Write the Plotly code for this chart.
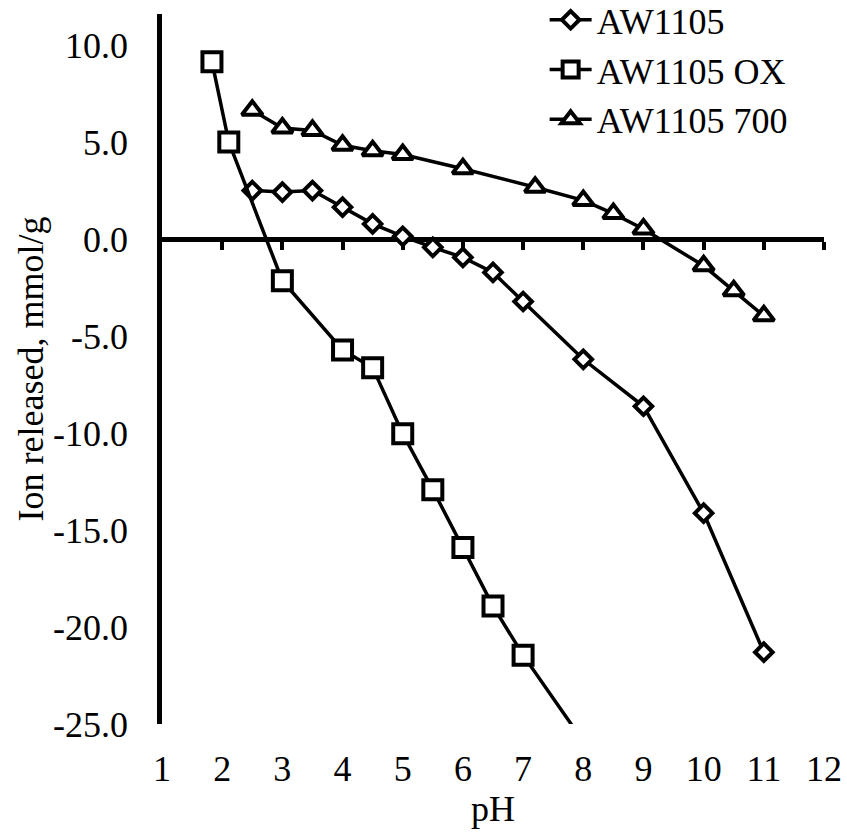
import plotly.graph_objects as go

# Ion released (mmol/g) versus pH for the three samples
ph_aw1105 = [2.5, 3, 3.5, 4, 4.5, 5, 5.5, 6, 6.5, 7, 8, 9, 10, 11]
ion_aw1105 = [2.5, 2.42, 2.5, 1.64, 0.78, 0.14, -0.43, -0.95, -1.72, -3.22, -6.2, -8.62, -14.13, -21.3]

ph_ox = [1.83, 2.11, 3, 4, 4.5, 5, 5.5, 6, 6.5, 7, 8]
ion_ox = [9.14, 5.0, -2.15, -5.72, -6.63, -10.04, -12.92, -15.9, -18.92, -21.45, -25.9]

ph_700 = [2.5, 3, 3.5, 4, 4.5, 5, 6, 7.2, 8, 8.5, 9, 10, 10.5, 11]
ion_700 = [6.64, 5.72, 5.6, 4.83, 4.55, 4.36, 3.62, 2.67, 1.99, 1.31, 0.52, -1.38, -2.67, -3.96]

x_ticks = [1, 2, 3, 4, 5, 6, 7, 8, 9, 10, 11, 12]
y_ticks = [-25, -20, -15, -10, -5, 0, 5, 10]
y_ticktext = ["-25.0", "-20.0", "-15.0", "-10.0", "-5.0", "0.0", "5.0", "10.0"]

X_RANGE = [1, 12]
Y_RANGE = [-25, 11.6]

FONT = "Liberation Serif, Times New Roman, serif"
FS = 36

# (name, x, y, marker symbol, marker size, x axis)
series = [
    ("AW1105", ph_aw1105, ion_aw1105, "diamond", 13.5, "x"),
    ("AW1105 OX", ph_ox, ion_ox, "square", 19, "x"),
    ("AW1105 700", ph_700, ion_700, "triangle-up", 18, "x2"),
]

fig = go.Figure()
for name, xs, ys, sym, size, xa in series:
    fig.add_trace(go.Scatter(
        x=xs, y=ys, name=name, mode="lines+markers", xaxis=xa, yaxis="y",
        line=dict(color="black", width=3.5),
        marker=dict(symbol=sym, size=size, color="white",
                    line=dict(color="black", width=4)),
    ))

# horizontal axis line drawn through y = 0
zero_pos = (0 - Y_RANGE[0]) / (Y_RANGE[1] - Y_RANGE[0])

fig.update_layout(
    width=847, height=832,
    margin=dict(l=162, r=23, t=14, b=108, autoexpand=False),
    paper_bgcolor="white", plot_bgcolor="white",
    font=dict(family=FONT, size=FS, color="black"),
    showlegend=True,
    legend=dict(x=0.578, xanchor="left", y=1.034, yanchor="top",
                bgcolor="rgba(0,0,0,0)", font=dict(family=FONT, size=FS),
                tracegroupgap=0, itemwidth=42),
    xaxis=dict(
        range=X_RANGE, tickvals=x_ticks, showline=False, showgrid=False,
        zeroline=False, ticks="", ticklabelstandoff=20,
        title=dict(text="pH", font=dict(family=FONT, size=FS), standoff=4),
        tickfont=dict(family=FONT, size=FS),
    ),
    xaxis2=dict(
        overlaying="x", range=X_RANGE, anchor="free", position=zero_pos,
        tickvals=x_ticks[1:], showticklabels=False, ticks="outside",
        ticklen=8, tickwidth=3.5, tickcolor="black",
        showline=True, linewidth=4.5, linecolor="black",
        showgrid=False, zeroline=False, layer="below traces",
    ),
    yaxis=dict(
        range=Y_RANGE, tickvals=y_ticks, ticktext=y_ticktext,
        showline=True, linewidth=4.5, linecolor="black", ticks="",
        showgrid=False, zeroline=False, ticklabelstandoff=22,
        layer="below traces",
        title=dict(text="Ion released, mmol/g", font=dict(family=FONT, size=FS), standoff=0),
        tickfont=dict(family=FONT, size=FS),
    ),
)

fig.write_html("out.html")
